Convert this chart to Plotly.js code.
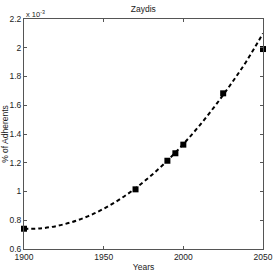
<!DOCTYPE html>
<html>
<head>
<meta charset="utf-8">
<script src="https://cdn.plot.ly/plotly-3.0.1.min.js"></script>
<style>html,body{margin:0;padding:0;background:#fff;}#chart{width:273px;height:273px;}</style>
</head>
<body>
<div id="chart"></div>
<script>
// Observed data (% of adherents, in units of 1e-3)
const years = [1900, 1970, 1990, 1995, 2000, 2025, 2050];
const adherents = [0.741, 1.015, 1.214, 1.266, 1.326, 1.683, 1.991];
// Fitted curve
const fitYears = [1900, 1910, 1920, 1930, 1940, 1950, 1960, 1970, 1980, 1990, 2000, 2010, 2020, 2030, 2040, 2050];
const fitValues = [0.740, 0.743, 0.759, 0.787, 0.827, 0.880, 0.945, 1.023, 1.113, 1.215, 1.330, 1.457, 1.597, 1.749, 1.913, 2.100];
const xTicks = [1900, 1950, 2000, 2050];
const yTicks = [0.6, 0.8, 1, 1.2, 1.4, 1.6, 1.8, 2, 2.2];

const font = {family: 'Liberation Sans, Arial, sans-serif', size: 8.5, color: '#222'};
const axisCommon = {
  showgrid: false, zeroline: false, showline: true, mirror: 'ticks',
  linecolor: '#555', linewidth: 1, ticks: 'inside', ticklen: 3, tickcolor: '#555',
  tickfont: font
};
Plotly.newPlot('chart', [
  {x: fitYears, y: fitValues, mode: 'lines', line: {color: '#000', width: 2, dash: '4px,3px', shape: 'spline'}, hoverinfo: 'skip', cliponaxis: false},
  {x: years, y: adherents, mode: 'markers', marker: {symbol: 'square', size: 6, color: '#000'}, cliponaxis: false}
], {
  width: 273, height: 273, showlegend: false,
  paper_bgcolor: '#fff', plot_bgcolor: '#fff',
  margin: {l: 24, r: 10, t: 19, b: 24},
  title: {text: 'Zaydis', font: {family: font.family, size: 8.5, color: '#222'}, x: 0.525, xanchor: 'center', y: 0.967, yanchor: 'middle'},
  xaxis: Object.assign({}, axisCommon, {range: [1900, 2050], tickvals: xTicks, ticktext: xTicks.map(String),
    title: {text: 'Years', font: font, standoff: 2}}),
  yaxis: Object.assign({}, axisCommon, {range: [0.6, 2.2], tickvals: yTicks, ticktext: yTicks.map(String),
    title: {text: '% of Adherents', font: font, standoff: 1}}),
  annotations: [{text: 'x 10<sup>-3</sup>', xref: 'paper', yref: 'paper', x: 0, y: 1, xanchor: 'left', yanchor: 'bottom',
    showarrow: false, font: {family: font.family, size: 7.5, color: '#222'}, xshift: 0, yshift: -2}]
}, {displayModeBar: false, staticPlot: true});
</script>
</body>
</html>
